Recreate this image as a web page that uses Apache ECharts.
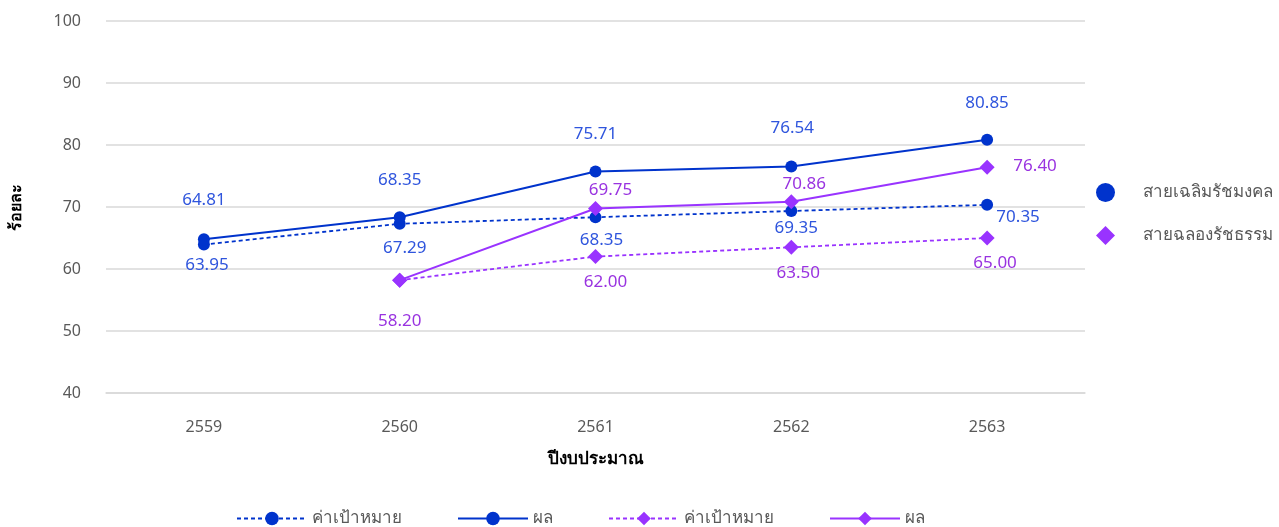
<!DOCTYPE html>
<html><head><meta charset="utf-8">
<script src="https://cdn.jsdelivr.net/npm/echarts@6/dist/echarts.min.js"></script>
<style>html,body{margin:0;padding:0;background:#fff}#c{width:1279px;height:527px}</style>
</head><body><div id="c"></div>
<script>
const years = ['2559','2560','2561','2562','2563'];
const blueTarget = [63.95, 67.29, 68.35, 69.35, 70.35];
const blueResult = [64.81, 68.35, 75.71, 76.54, 80.85];
const purpleTarget = [null, 58.20, 62.00, 63.50, 65.00];
const purpleResult = [null, 58.20, 69.75, 70.86, 76.40];
const yTicks = [40, 50, 60, 70, 80, 90, 100];

// label placement (styling only)
const offBlueTarget = [[3,21],[5,24],[6,23],[5,17],[31,12]];
const offBlueResult = [[0,-39],[0,-37],[0,-37],[1,-38],[0,-37]];
const offPurpleTarget = [null,null,[10,26],[7,26],[8,25]];
const offPurpleResult = [null,[0,41],[15,-18],[13,-18],[48,-1]];

const BLUE = '#0033CC', PURPLE = '#9933FF';
const BLUE_T = '#2F55DD', PURPLE_T = '#9933E0';
const FONT = 'Noto Sans, sans-serif';

function build(vals, offs, color) {
  return vals.map((v, i) => {
    if (v === null) return null;
    const o = offs[i];
    return {
      value: v,
      label: o ? { show: true, position: 'inside', offset: o, color: color,
        fontSize: 17, fontFamily: FONT, formatter: p => p.value.toFixed(2) } : { show: false }
    };
  });
}

const chart = echarts.init(document.getElementById('c'));
chart.setOption({
  animation: false,
  textStyle: { fontFamily: FONT },
  grid: { left: 106, right: 194, top: 21, bottom: 134 },
  legend: [
    {
      data: ['ค่าเป้าหมาย|a', 'ผล|a', 'ค่าเป้าหมาย|b', 'ผล|b'],
      left: 231, top: 505, itemWidth: 70, itemHeight: 17, itemGap: 55,
      formatter: n => n.split('|')[0],
      textStyle: { fontSize: 17, color: '#595959', fontFamily: FONT }
    },
    {
      data: ['สายเฉลิมรัชมงคล', 'สายฉลองรัชธรรม'],
      orient: 'vertical', left: 1091, top: 178, itemWidth: 19, itemHeight: 19, itemGap: 24,
      itemStyle: { opacity: 1 },
      textStyle: { fontSize: 17, color: '#595959', fontFamily: FONT, padding: [0, 0, 0, 23] }
    }
  ],
  xAxis: {
    type: 'category', data: years, boundaryGap: true,
    name: 'ปีงบประมาณ', nameLocation: 'middle', nameGap: 58,
    nameTextStyle: { fontSize: 17, fontWeight: 'bold', color: '#000', fontFamily: FONT },
    axisLine: { show: true, lineStyle: { color: '#d9d9d9', width: 1.5 } },
    axisTick: { show: false },
    axisLabel: { fontSize: 16, color: '#595959', margin: 26 }
  },
  yAxis: {
    type: 'value', min: 40, max: 100, interval: 10,
    name: 'ร้อยละ', nameLocation: 'middle', nameGap: 82, nameRotate: 90,
    nameTextStyle: { fontSize: 16, fontWeight: 'bold', color: '#000', fontFamily: FONT },
    axisLine: { show: false }, axisTick: { show: false },
    axisLabel: { fontSize: 16, color: '#595959', margin: 25 },
    splitLine: { lineStyle: { color: '#d9d9d9', width: 1.5 } }
  },
  series: [
    { name: 'ค่าเป้าหมาย|a', type: 'line', data: build(blueTarget, offBlueTarget, BLUE_T),
      symbol: 'circle', symbolSize: 12, itemStyle: { color: BLUE },
      lineStyle: { color: BLUE, width: 1.8, type: [4, 3] }, z: 3 },
    { name: 'ผล|a', type: 'line', data: build(blueResult, offBlueResult, BLUE_T),
      symbol: 'circle', symbolSize: 12, itemStyle: { color: BLUE },
      lineStyle: { color: BLUE, width: 2 }, z: 4 },
    { name: 'ค่าเป้าหมาย|b', type: 'line', data: build(purpleTarget, offPurpleTarget, PURPLE_T),
      symbol: 'diamond', symbolSize: 15, itemStyle: { color: PURPLE },
      lineStyle: { color: PURPLE, width: 1.8, type: [4, 3] }, z: 3 },
    { name: 'ผล|b', type: 'line', data: build(purpleResult, offPurpleResult, PURPLE_T),
      symbol: 'diamond', symbolSize: 15, itemStyle: { color: PURPLE },
      lineStyle: { color: PURPLE, width: 2 }, z: 4 },
    { name: 'สายเฉลิมรัชมงคล', type: 'scatter', data: [], symbol: 'circle', itemStyle: { color: BLUE, opacity: 1 } },
    { name: 'สายฉลองรัชธรรม', type: 'scatter', data: [], symbol: 'diamond', itemStyle: { color: PURPLE, opacity: 1 } }
  ]
});
</script></body></html>
